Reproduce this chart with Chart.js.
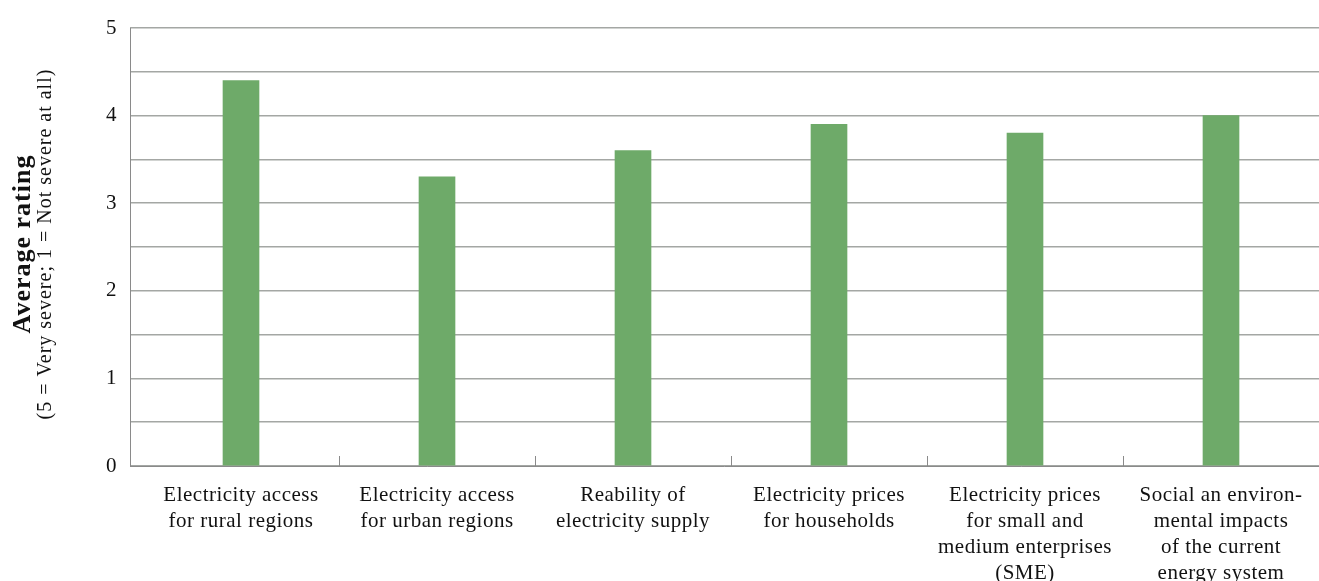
<!DOCTYPE html>
<html>
<head>
<meta charset="utf-8">
<script src="https://cdn.jsdelivr.net/npm/chart.js@4"></script>
<style>
  html, body { margin: 0; padding: 0; background: #fff; }
  #wrap { width: 1319px; height: 581px; }
</style>
</head>
<body>
<div id="wrap"><canvas id="ratingChart"></canvas></div>
<script>
// categories (pre-wrapped the way the source shows them)
const categories = [
    ['Electricity access', 'for rural regions'],
    ['Electricity access', 'for urban regions'],
    ['Reability of', 'electricity supply'],
    ['Electricity prices', 'for households'],
    ['Electricity prices', 'for small and', 'medium enterprises', '(SME)'],
    ['Social an environ-', 'mental impacts', 'of the current', 'energy system']
];
const averageRating = [4.4, 3.3, 3.6, 3.9, 3.8, 4.0];
const yTickLabels = ['0', '1', '2', '3', '4', '5'];

const barColor = '#6eaa69';
const gridColor = '#a4a7a4';
const axisColor = '#8a8a8a';
const serif = "'Liberation Serif', 'DejaVu Serif', serif";

// the source font is a bit wider than Liberation Serif
const spacing = {
    id: 'spacing',
    beforeDraw(chart) {
        chart.ctx.letterSpacing = '0.5px';
    }
};

// left axis line, category tick marks and the two-line y title
const extras = {
    id: 'extras',
    afterDraw(chart) {
        const ctx = chart.ctx;
        const area = chart.chartArea;
        const x = chart.scales.x;
        const y = chart.scales.y;
        const axisX = area.left - 13;
        ctx.save();
        ctx.strokeStyle = axisColor;
        ctx.lineWidth = 1;
        // vertical axis line
        ctx.beginPath();
        ctx.moveTo(axisX + 0.5, area.top);
        ctx.lineTo(axisX + 0.5, area.bottom);
        ctx.stroke();
        // bottom axis line
        ctx.beginPath();
        ctx.moveTo(axisX, y.getPixelForValue(0) + 0.5);
        ctx.lineTo(area.right, y.getPixelForValue(0) + 0.5);
        ctx.stroke();
        // short category dividers
        const n = categories.length;
        for (let i = 0; i < n - 1; i++) {
            const bx = Math.round((x.getPixelForValue(i) + x.getPixelForValue(i + 1)) / 2) + 0.5;
            ctx.beginPath();
            ctx.moveTo(bx, area.bottom);
            ctx.lineTo(bx, area.bottom - 10);
            ctx.stroke();
        }
        // y title
        const cy = (area.top + area.bottom) / 2 - 3;
        ctx.translate(0, cy);
        ctx.rotate(-Math.PI / 2);
        ctx.fillStyle = '#111';
        ctx.textAlign = 'center';
        ctx.textBaseline = 'middle';
        ctx.letterSpacing = '1px';
        ctx.font = "bold 26px " + serif;
        ctx.fillText('Average rating', 0, 23);
        ctx.letterSpacing = '1px';
        ctx.font = "20px " + serif;
        ctx.fillText('(5 = Very severe; 1 = Not severe at all)', 0, 46);
        ctx.restore();
    }
};

const config = {
    type: 'bar',
    data: {
        labels: categories,
        datasets: [{
            label: 'Average rating',
            data: averageRating,
            backgroundColor: barColor,
            borderWidth: 0,
            barThickness: 36
        }]
    },
    options: {
        responsive: true,
        maintainAspectRatio: false,
        animation: false,
        layout: { padding: { top: 28, right: 0, left: 0, bottom: 0 } },
        plugins: {
            legend: { display: false },
            tooltip: { enabled: false }
        },
        scales: {
            x: {
                grid: { display: false },
                border: { display: false },
                ticks: {
                    color: '#111',
                    font: { family: serif, size: 21, lineHeight: 1.24 },
                    maxRotation: 0,
                    autoSkip: false,
                    padding: 8
                },
                afterFit(scale) { scale.height = 115; }
            },
            y: {
                min: 0,
                max: 5,
                border: { display: false },
                grid: {
                    color: gridColor,
                    lineWidth: 1.5,
                    drawTicks: true,
                    tickLength: 13,
                    tickColor: gridColor
                },
                ticks: {
                    stepSize: 0.5,
                    color: '#111',
                    padding: 13,
                    font: { family: serif, size: 21 },
                    callback: (v) => Number.isInteger(v) ? yTickLabels[v] : ''
                },
                afterFit(scale) { scale.width = 143; }
            }
        }
    },
    plugins: [spacing, extras]
};

const ratingChart = new Chart(document.getElementById('ratingChart'), config);
</script>
</body>
</html>
